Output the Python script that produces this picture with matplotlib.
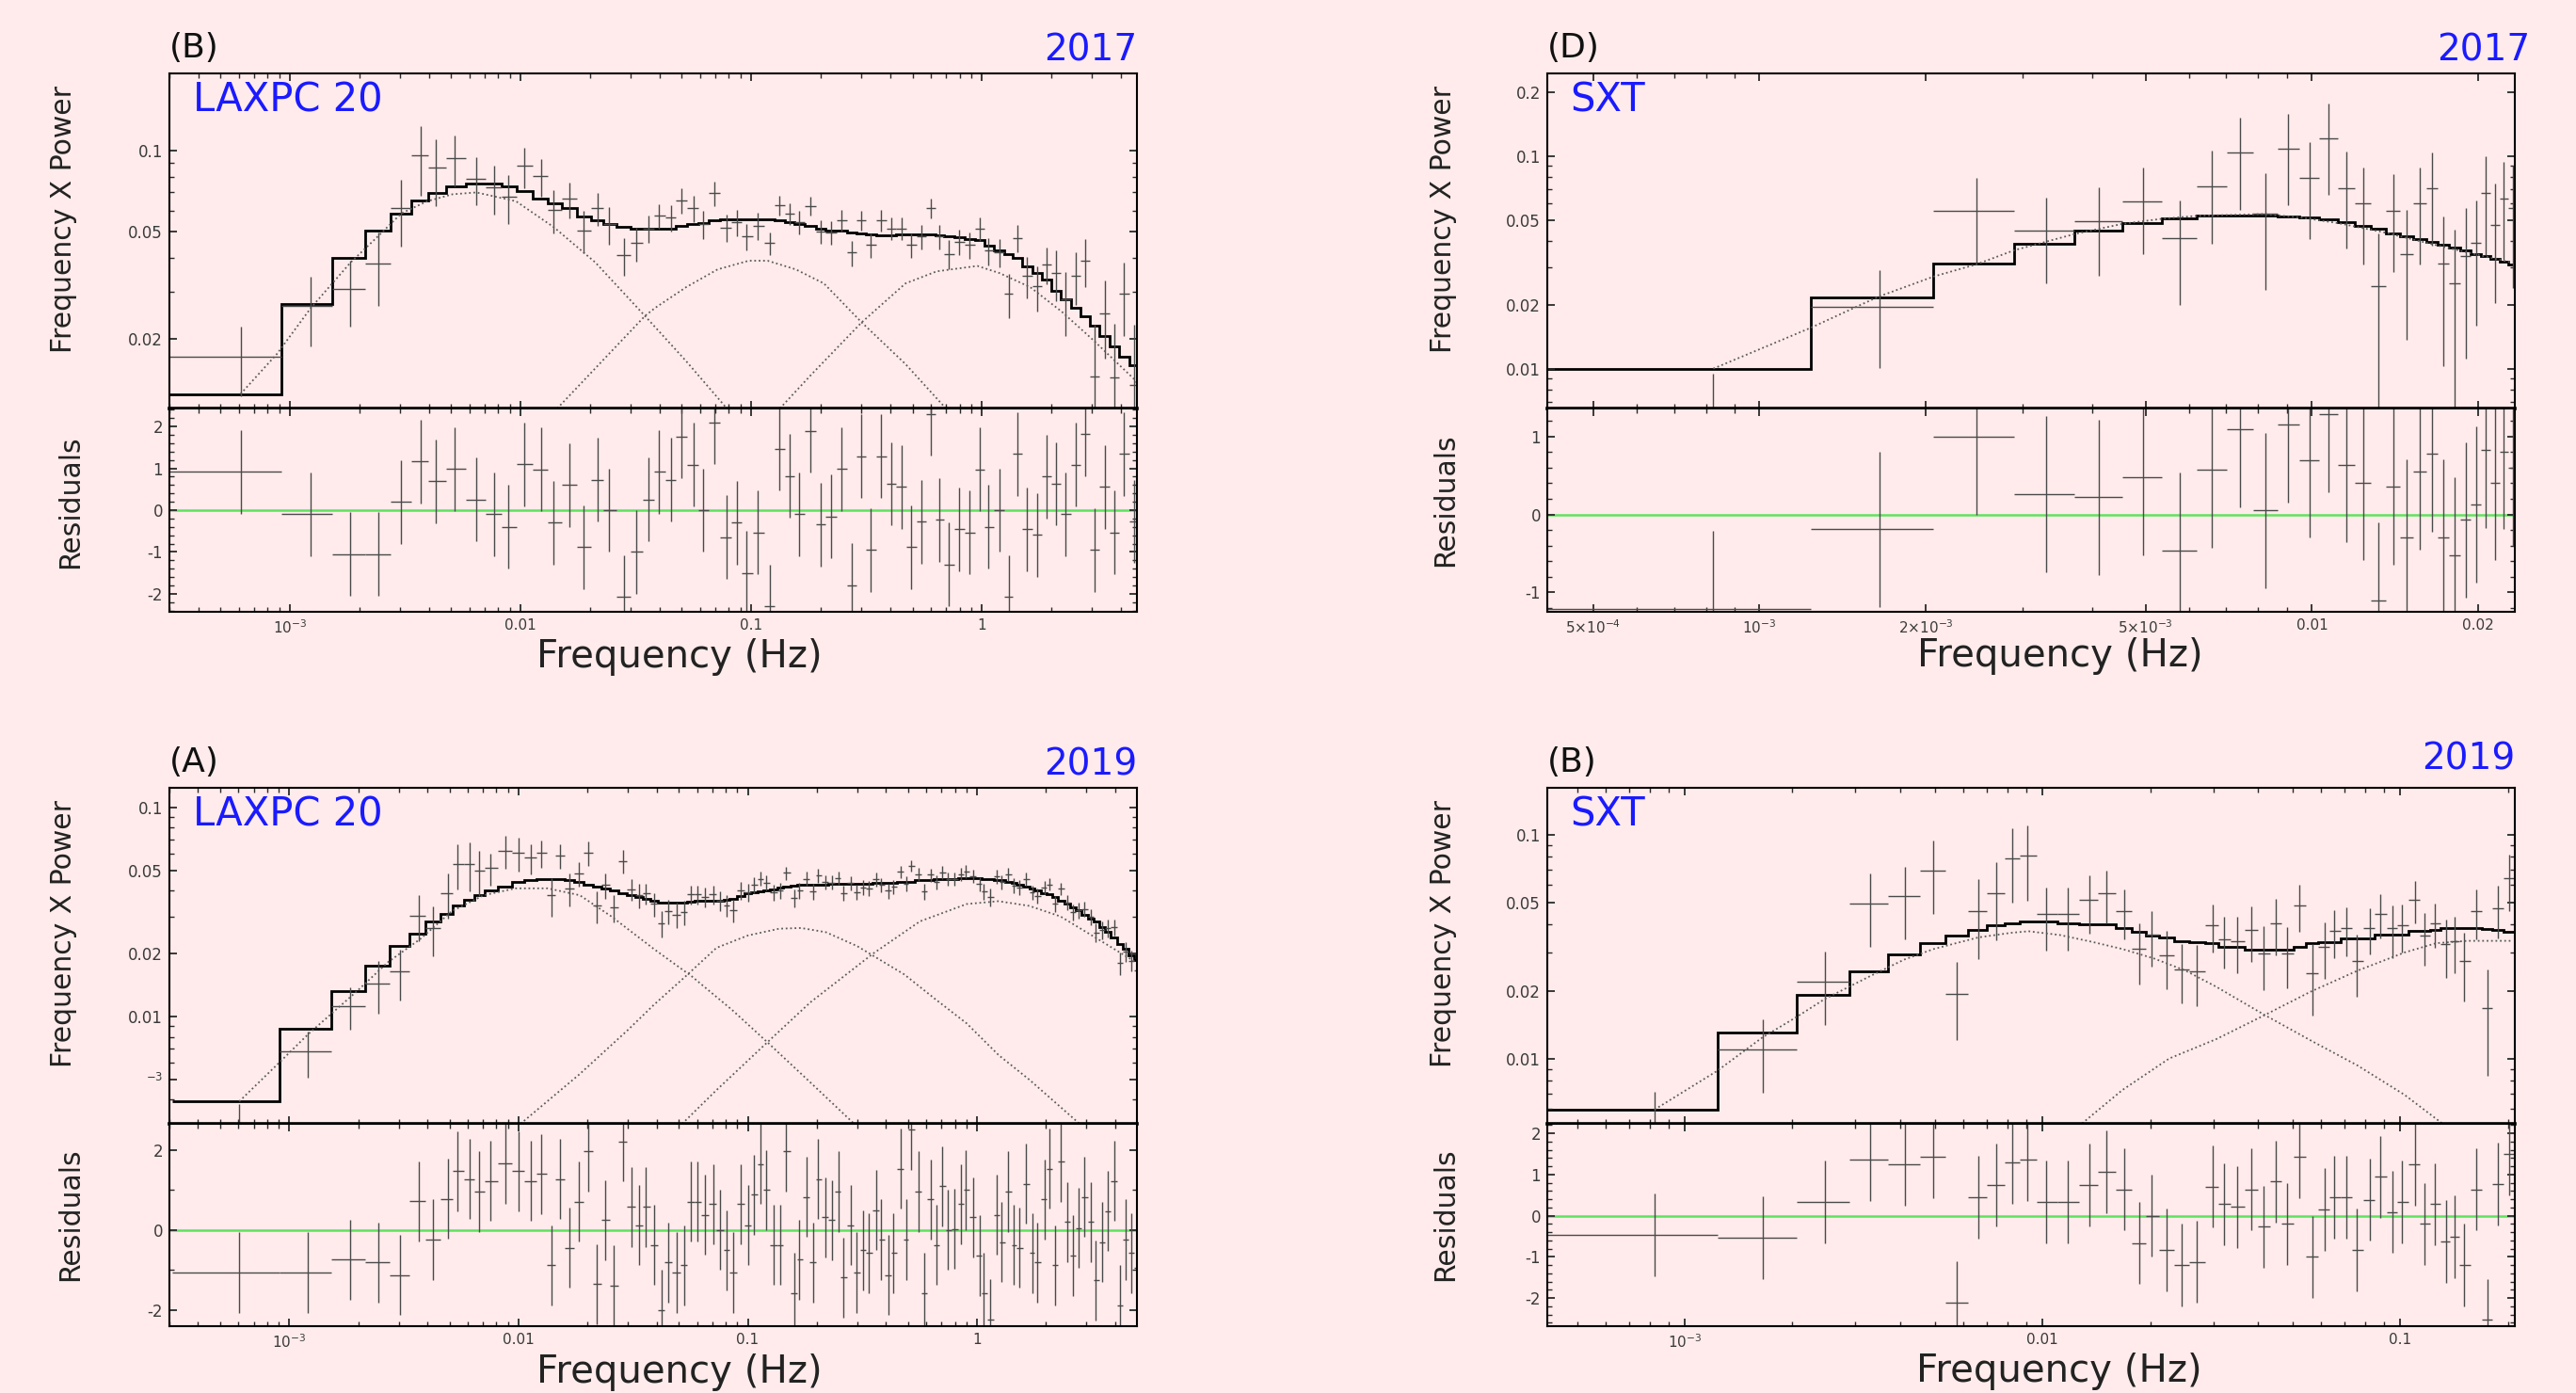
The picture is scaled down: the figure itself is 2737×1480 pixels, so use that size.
import numpy as np
import matplotlib.pyplot as plt
from matplotlib.ticker import LogLocator, MultipleLocator, NullFormatter

# ---------------- data ----------------
# (B) 2017 LAXPC 20
lax17_freq = [6.1e-4, 1.23e-3, 1.83e-3, 2.42e-3, 3.02e-3, 3.68e-3, 4.28e-3, 5.19e-3, 6.43e-3, 7.66e-3,
              8.83e-3, 1.035e-2, 1.23e-2, 1.39e-2, 1.63e-2, 1.88e-2, 2.15e-2, 2.42e-2, 2.81e-2, 3.18e-2,
              3.57e-2, 3.99e-2, 4.47e-2, 4.98e-2, 5.60e-2, 6.20e-2, 6.92e-2, 7.78e-2, 8.66e-2, 9.55e-2,
              0.107, 0.120, 0.1325, 0.1465, 0.161, 0.181, 0.200, 0.221, 0.247, 0.272,
              0.299, 0.330, 0.365, 0.404, 0.448, 0.495, 0.547, 0.601, 0.652, 0.721,
              0.796, 0.883, 0.976, 1.07, 1.19, 1.31, 1.42, 1.57, 1.73, 1.90,
              2.10, 2.31, 2.55, 2.80, 3.08, 3.40, 3.75, 4.14, 4.56]
lax17_pow = [0.0172, 0.0264, 0.0306, 0.0380, 0.0611, 0.0959, 0.0863, 0.0936, 0.0789, 0.0731,
             0.0675, 0.0877, 0.0805, 0.0602, 0.0662, 0.0506, 0.0611, 0.0534, 0.0408, 0.0453,
             0.0515, 0.0575, 0.0564, 0.0653, 0.0611, 0.0534, 0.0695, 0.0518, 0.0542, 0.0481,
             0.0526, 0.0453, 0.0627, 0.0585, 0.0542, 0.0624, 0.0500, 0.0496, 0.0551, 0.0418,
             0.0551, 0.0446, 0.0551, 0.0515, 0.0515, 0.0446, 0.0481, 0.0611, 0.0481, 0.0414,
             0.0459, 0.0446, 0.0515, 0.0425, 0.0420, 0.0294, 0.0473, 0.0343, 0.0313, 0.0378,
             0.0351, 0.0280, 0.0343, 0.0390, 0.0145, 0.0248, 0.0143, 0.0294, 0.0135]
lax17_err = [0.0050, 0.0076, 0.0085, 0.0115, 0.0170, 0.0280, 0.0240, 0.0200, 0.0160, 0.0150,
             0.0140, 0.0150, 0.0130, 0.0110, 0.0100, 0.0090, 0.0085, 0.0085, 0.0065, 0.0065,
             0.0060, 0.0060, 0.0065, 0.0070, 0.0070, 0.0065, 0.0070, 0.0060, 0.0060, 0.0055,
             0.0060, 0.0045, 0.0055, 0.0055, 0.0055, 0.0050, 0.0050, 0.0050, 0.0050, 0.0045,
             0.0048, 0.0048, 0.0050, 0.0048, 0.0048, 0.0048, 0.0050, 0.0052, 0.0050, 0.0052,
             0.0050, 0.0050, 0.0052, 0.0050, 0.0050, 0.0055, 0.0055, 0.0060, 0.0060, 0.0060,
             0.0075, 0.0075, 0.0075, 0.0080, 0.0080, 0.0080, 0.0085, 0.0090, 0.0090]
lax17_mod = [0.01245, 0.0269, 0.0398, 0.0506, 0.0585, 0.0653, 0.0695, 0.0736, 0.0754, 0.0754,
             0.0738, 0.0710, 0.0662, 0.0639, 0.0611, 0.0570, 0.0550, 0.0534, 0.0521, 0.0515,
             0.0515, 0.0515, 0.0515, 0.0526, 0.0534, 0.0539, 0.0550, 0.0555, 0.0558, 0.0558,
             0.0558, 0.0555, 0.0550, 0.0542, 0.0534, 0.0526, 0.0515, 0.0506, 0.0503, 0.0496,
             0.0494, 0.0490, 0.0485, 0.0485, 0.0490, 0.0490, 0.0490, 0.0490, 0.0485, 0.0481,
             0.0477, 0.0471, 0.0464, 0.0443, 0.0425, 0.0414, 0.0398, 0.0373, 0.0351, 0.0331,
             0.0302, 0.0280, 0.0261, 0.0243, 0.0223, 0.0204, 0.0187, 0.0172, 0.0159]
lax17_res = [0.92, -0.10, -1.05, -1.05, 0.20, 1.16, 0.69, 0.98, 0.25, -0.10,
             -0.40, 1.10, 0.97, -0.30, 0.60, -0.88, 0.73, 0.00, -2.08, -1.00,
             0.25, 0.92, 0.73, 1.76, 1.09, 0.00, 2.10, -0.65, -0.30, -1.50,
             -0.53, -2.30, 1.47, 0.82, -0.10, 1.90, -0.34, -0.15, 0.98, -1.79,
             1.29, -0.95, 1.29, 0.63, 0.56, -0.88, -0.28, 2.30, -0.23, -1.30,
             -0.46, -0.53, 0.97, -0.40, 0.00, -2.08, 1.34, -0.46, -0.59, 0.80,
             0.63, -0.10, 1.09, 1.82, -0.95, 0.56, -0.53, 1.34, -0.27]
lax17_c1_f = [6.1e-4, 8.8e-4, 1.23e-3, 1.83e-3, 2.36e-3, 3.04e-3, 3.93e-3, 5.06e-3, 6.43e-3,
              9.55e-3, 1.40e-2, 2.11e-2, 3.46e-2, 5.22e-2, 7.84e-2]
lax17_c1_y = [0.01245, 0.0176, 0.0260, 0.0384, 0.0473, 0.0585, 0.0649, 0.0689, 0.0700,
              0.0649, 0.0518, 0.0384, 0.0243, 0.0165, 0.0110]
lax17_c2_f = [1.44e-2, 3.46e-2, 3.82e-2, 5.22e-2, 7.14e-2, 9.75e-2, 0.1177, 0.156, 0.2065, 0.301, 0.466, 0.698]
lax17_c2_y = [0.0110, 0.0243, 0.0260, 0.0311, 0.0362, 0.0390, 0.0390, 0.0362, 0.0321, 0.0230, 0.0161, 0.0110]
lax17_c3_f = [0.133, 0.182, 0.301, 0.466, 0.636, 0.955, 1.19, 1.62, 2.22, 3.03, 4.55, 4.75]
lax17_c3_y = [0.0110, 0.0147, 0.0230, 0.0321, 0.0356, 0.0373, 0.0351, 0.0311, 0.0252, 0.0198, 0.0142, 0.0135]

# (D) 2017 SXT
sxt17_freq = [8.25e-4, 1.65e-3, 2.47e-3, 3.30e-3, 4.12e-3, 4.95e-3, 5.77e-3, 6.60e-3, 7.42e-3, 8.25e-3,
              9.07e-3, 9.90e-3, 1.072e-2, 1.155e-2, 1.237e-2, 1.320e-2, 1.402e-2, 1.485e-2, 1.567e-2, 1.650e-2,
              1.732e-2, 1.815e-2, 1.897e-2, 1.980e-2, 2.062e-2, 2.145e-2, 2.227e-2, 2.310e-2]
sxt17_pow = [0.0062, 0.0196, 0.0556, 0.0446, 0.0495, 0.0616, 0.0410, 0.0726, 0.1040, 0.0535,
             0.1090, 0.0789, 0.1220, 0.0710, 0.0600, 0.0244, 0.0556, 0.0347, 0.0600, 0.0710,
             0.0313, 0.0252, 0.0341, 0.0390, 0.0673, 0.0473, 0.0635, 0.0571]
sxt17_err = [0.0033, 0.0095, 0.0240, 0.0194, 0.0220, 0.0270, 0.0210, 0.0340, 0.0480, 0.0300,
             0.0500, 0.0380, 0.0560, 0.0340, 0.0290, 0.0190, 0.0270, 0.0210, 0.0290, 0.0330,
             0.0210, 0.0200, 0.0230, 0.0230, 0.0330, 0.0270, 0.0310, 0.0330]
sxt17_mod = [0.0100, 0.0216, 0.0313, 0.0388, 0.0446, 0.0484, 0.0509, 0.0525, 0.0525, 0.0525,
             0.0522, 0.0516, 0.0504, 0.0490, 0.0472, 0.0454, 0.0435, 0.0421, 0.0408, 0.0397,
             0.0383, 0.0371, 0.0359, 0.0348, 0.0338, 0.0330, 0.0319, 0.0310]
sxt17_res = [-1.21, -0.19, 1.00, 0.26, 0.22, 0.48, -0.46, 0.57, 1.09, 0.05,
             1.15, 0.70, 1.29, 0.64, 0.41, -1.10, 0.36, -0.29, 0.55, 0.78,
             -0.29, -0.52, -0.07, 0.13, 0.83, 0.41, 0.81, 0.60]
sxt17_c1_f = [8.25e-4, 1.24e-3, 1.64e-3, 2.07e-3, 2.47e-3, 2.89e-3, 3.71e-3, 4.54e-3, 5.38e-3,
              6.21e-3, 8.18e-3, 9.57e-3, 1.12e-2, 1.36e-2, 1.67e-2, 2.30e-2]
sxt17_c1_y = [0.0100, 0.0156, 0.0218, 0.0272, 0.0310, 0.0361, 0.0430, 0.0481, 0.0509,
              0.0525, 0.0535, 0.0515, 0.0484, 0.0437, 0.0383, 0.0316]

# (A) 2019 LAXPC 20
lax19_freq = [6.05e-4, 1.20e-3, 1.84e-3, 2.44e-3, 3.05e-3, 3.66e-3, 4.22e-3, 4.93e-3, 5.43e-3, 6.11e-3,
              6.73e-3, 7.53e-3, 8.77e-3, 9.97e-3, 1.13e-2, 1.26e-2, 1.39e-2, 1.51e-2, 1.66e-2, 1.83e-2,
              2.02e-2, 2.20e-2, 2.39e-2, 2.60e-2, 2.86e-2, 3.10e-2, 3.36e-2, 3.60e-2, 3.92e-2, 4.20e-2,
              4.49e-2, 4.89e-2, 5.26e-2, 5.65e-2, 6.05e-2, 6.49e-2, 7.05e-2, 7.55e-2, 8.09e-2, 8.61e-2,
              9.34e-2, 0.100, 0.106, 0.114, 0.120, 0.129, 0.139, 0.147, 0.159, 0.168,
              0.180, 0.192, 0.203, 0.218, 0.232, 0.248, 0.261, 0.281, 0.299, 0.319,
              0.337, 0.363, 0.381, 0.409, 0.432, 0.464, 0.490, 0.516, 0.555, 0.586,
              0.628, 0.664, 0.707, 0.748, 0.797, 0.849, 0.895, 0.957, 1.03, 1.07,
              1.14, 1.22, 1.28, 1.37, 1.45, 1.53, 1.64, 1.74, 1.83, 1.97,
              2.06, 2.19, 2.32, 2.47, 2.63, 2.76, 2.94, 3.13, 3.30, 3.51,
              3.72, 3.96, 4.22, 4.46, 4.71, 4.96]
lax19_pow = [0.0022, 0.0068, 0.01125, 0.01435, 0.0164, 0.0304, 0.0265, 0.0388, 0.0537, 0.0537,
             0.0498, 0.0512, 0.0621, 0.0604, 0.0574, 0.0604, 0.0380, 0.0589, 0.0410, 0.0484,
             0.0604, 0.0338, 0.0425, 0.0332, 0.0553, 0.0406, 0.0380, 0.0388, 0.0345, 0.0279,
             0.0318, 0.0307, 0.0315, 0.0383, 0.0384, 0.0372, 0.0384, 0.0358, 0.0340, 0.0323,
             0.0400, 0.0393, 0.0425, 0.0456, 0.0436, 0.0392, 0.0400, 0.0486, 0.0368, 0.0399,
             0.0456, 0.0398, 0.0472, 0.0439, 0.0437, 0.0461, 0.0390, 0.0434, 0.0394, 0.0413,
             0.0411, 0.0452, 0.0427, 0.0399, 0.0417, 0.0491, 0.0432, 0.0527, 0.0480, 0.0395,
             0.0476, 0.0440, 0.0490, 0.0454, 0.0456, 0.0479, 0.0494, 0.0470, 0.0430, 0.0396,
             0.0372, 0.0466, 0.0439, 0.0478, 0.0422, 0.0413, 0.0455, 0.0392, 0.0377, 0.0413,
             0.0428, 0.0346, 0.0408, 0.0351, 0.0315, 0.0322, 0.0327, 0.0300, 0.0252, 0.0259,
             0.0265, 0.0267, 0.0180, 0.0205, 0.0185, 0.0166]
lax19_err = [0.0016, 0.0017, 0.0026, 0.0040, 0.0045, 0.0075, 0.0070, 0.0095, 0.0130, 0.0140,
             0.0120, 0.0090, 0.0110, 0.0110, 0.0095, 0.0090, 0.0080, 0.0080, 0.0075, 0.0065,
             0.0080, 0.0060, 0.0060, 0.0050, 0.0070, 0.0050, 0.0050, 0.0045, 0.0045, 0.0040,
             0.0042, 0.0042, 0.0042, 0.0040, 0.0040, 0.0040, 0.0040, 0.0040, 0.0040, 0.0040,
             0.0038, 0.0038, 0.0038, 0.0036, 0.0036, 0.0036, 0.0036, 0.0035, 0.0035, 0.0035,
             0.0035, 0.0035, 0.0035, 0.0034, 0.0034, 0.0034, 0.0034, 0.0034, 0.0034, 0.0034,
             0.0034, 0.0034, 0.0034, 0.0034, 0.0034, 0.0034, 0.0034, 0.0034, 0.0034, 0.0034,
             0.0034, 0.0034, 0.0034, 0.0034, 0.0034, 0.0034, 0.0035, 0.0035, 0.0035, 0.0036,
             0.0036, 0.0036, 0.0036, 0.0035, 0.0035, 0.0034, 0.0032, 0.0032, 0.0031, 0.0030,
             0.0029, 0.0029, 0.0029, 0.0028, 0.0028, 0.0027, 0.0027, 0.0026, 0.0026, 0.0025,
             0.0025, 0.0024, 0.0022, 0.0022, 0.0021, 0.0021]
lax19_mod = [0.00393, 0.00875, 0.0132, 0.01754, 0.0217, 0.0250, 0.0285, 0.0310, 0.0338, 0.0361,
             0.0380, 0.0399, 0.0418, 0.0439, 0.0447, 0.0452, 0.0452, 0.0452, 0.0447, 0.0439,
             0.0427, 0.0418, 0.0410, 0.0399, 0.0390, 0.0380, 0.0373, 0.0366, 0.0359, 0.0352,
             0.0352, 0.0352, 0.0352, 0.0355, 0.0356, 0.0357, 0.0358, 0.0358, 0.0360, 0.0365,
             0.0375, 0.0388, 0.0392, 0.0397, 0.0400, 0.0405, 0.0414, 0.0417, 0.0423, 0.0425,
             0.0427, 0.0427, 0.0428, 0.0428, 0.0429, 0.0429, 0.0430, 0.0430, 0.0430, 0.0431,
             0.0432, 0.0435, 0.0435, 0.0437, 0.0437, 0.0438, 0.0440, 0.0442, 0.0447, 0.0449,
             0.0450, 0.0452, 0.0453, 0.0454, 0.0455, 0.0457, 0.0459, 0.0459, 0.0457, 0.0455,
             0.0452, 0.0450, 0.0447, 0.0442, 0.0435, 0.0428, 0.0418, 0.0410, 0.0402, 0.0390,
             0.0383, 0.0372, 0.0358, 0.0345, 0.0333, 0.0321, 0.0305, 0.0295, 0.0285, 0.0267,
             0.0253, 0.0238, 0.0222, 0.0210, 0.0196, 0.0186]
lax19_res = [-1.06, -1.06, -0.74, -0.81, -1.12, 0.72, -0.24, 0.78, 1.47, 1.27,
             0.96, 1.22, 1.66, 1.47, 1.22, 1.40, -0.88, 1.27, -0.44, 0.71,
             1.97, -1.35, 0.25, -1.39, 2.21, 0.58, 0.12, 0.58, -0.37, -2.00,
             -0.81, -1.06, -0.88, 0.71, 0.71, 0.38, 0.65, 0.00, -0.50, -1.06,
             0.65, 0.12, 0.88, 1.65, 1.00, -0.37, -0.37, 1.97, -1.57, -0.74,
             0.82, -0.81, 1.27, 0.32, 0.25, 0.96, -1.19, 0.12, -1.06, -0.50,
             -0.57, 0.50, -0.24, -1.12, -0.57, 1.53, -0.24, 2.50, 0.96, -1.57,
             0.76, -0.37, 1.09, 0.00, 0.03, 0.65, 1.00, 0.32, -0.64, -1.57,
             -2.23, 0.38, -0.30, 0.96, -0.37, -0.44, 1.15, -0.57, -0.81, 0.76,
             1.53, -0.88, 1.71, 0.20, -0.64, 0.05, 0.82, 0.20, -1.26, -0.30,
             0.47, 1.22, -1.88, -0.24, -0.57, -0.95]
lax19_c1_f = [6.05e-4, 9.08e-4, 1.21e-3, 1.96e-3, 2.70e-3, 3.72e-3, 5.12e-3, 7.05e-3, 9.7e-3,
              1.34e-2, 1.85e-2, 2.54e-2, 3.9e-2, 5.68e-2, 8.55e-2, 0.1226, 0.1875, 0.291]
lax19_c1_y = [0.00393, 0.00605, 0.00824, 0.01313, 0.01823, 0.02344, 0.0319, 0.0380, 0.0410,
              0.0410, 0.0380, 0.0301, 0.0210, 0.0156, 0.01074, 0.00748, 0.00484, 0.00307]
lax19_c2_f = [1.02e-2, 1.845e-2, 2.99e-2, 3.9e-2, 5.33e-2, 7.3e-2, 0.100, 0.137, 0.171, 0.219,
              0.300, 0.481, 0.658, 0.901, 1.24, 1.69, 2.80]
lax19_c2_y = [0.00307, 0.0053, 0.0086, 0.0114, 0.0155, 0.0213, 0.0244, 0.0263, 0.0265, 0.0253,
              0.0217, 0.0159, 0.0121, 0.00927, 0.00655, 0.00499, 0.00307]
lax19_c3_f = [5.17e-2, 7.3e-2, 0.121, 0.1875, 0.352, 0.563, 0.901, 1.24, 1.69, 2.31, 3.17, 4.92]
lax19_c3_y = [0.00307, 0.00445, 0.00749, 0.0117, 0.0200, 0.0285, 0.0345, 0.0356, 0.0338, 0.0301, 0.0244, 0.0182]

# (B) 2019 SXT
sxt19_freq = [8.24e-4, 1.65e-3, 2.47e-3, 3.30e-3, 4.12e-3, 4.95e-3, 5.77e-3, 6.60e-3, 7.42e-3, 8.25e-3,
              9.07e-3, 1.025e-2, 1.18e-2, 1.35e-2, 1.51e-2, 1.69e-2, 1.86e-2, 2.02e-2, 2.22e-2, 2.45e-2,
              2.70e-2, 2.99e-2, 3.22e-2, 3.49e-2, 3.84e-2, 4.16e-2, 4.48e-2, 4.82e-2, 5.22e-2, 5.67e-2,
              6.15e-2, 6.53e-2, 7.08e-2, 7.57e-2, 8.20e-2, 8.79e-2, 9.53e-2, 0.101, 0.110, 0.117,
              0.125, 0.134, 0.142, 0.151, 0.163, 0.175, 0.1875, 0.202]
sxt19_pow = [0.0050, 0.01106, 0.0222, 0.0497, 0.0533, 0.0695, 0.0196, 0.0458, 0.0550, 0.0788,
             0.0811, 0.0446, 0.0446, 0.0512, 0.0550, 0.0458, 0.0310, 0.0358, 0.0290, 0.0252,
             0.0247, 0.0394, 0.0343, 0.0337, 0.0376, 0.0297, 0.0404, 0.0297, 0.0484, 0.0241,
             0.0318, 0.0373, 0.0383, 0.0274, 0.0383, 0.0446, 0.0383, 0.0394, 0.0512, 0.0356,
             0.0404, 0.0325, 0.0337, 0.0274, 0.0458, 0.0168, 0.0472, 0.0640]
sxt19_err = [0.0021, 0.0040, 0.0080, 0.0180, 0.0190, 0.0250, 0.0075, 0.0180, 0.0210, 0.0290,
             0.0300, 0.0140, 0.0140, 0.0150, 0.0145, 0.0115, 0.0095, 0.0100, 0.0085, 0.0075,
             0.0075, 0.0095, 0.0090, 0.0095, 0.0105, 0.0095, 0.0115, 0.0090, 0.0115, 0.0085,
             0.0090, 0.0090, 0.0095, 0.0085, 0.0090, 0.0100, 0.0100, 0.0095, 0.0110, 0.0095,
             0.0090, 0.0095, 0.0095, 0.0093, 0.0115, 0.0084, 0.0125, 0.0180]
sxt19_mod = [0.00593, 0.01312, 0.0194, 0.0246, 0.0294, 0.0329, 0.0356, 0.0376, 0.0394, 0.0404,
             0.0411, 0.0411, 0.0405, 0.0400, 0.0398, 0.0384, 0.0370, 0.0355, 0.0350, 0.0337,
             0.0334, 0.0330, 0.0318, 0.0318, 0.0308, 0.0308, 0.0308, 0.0308, 0.0318, 0.0330,
             0.0334, 0.0334, 0.0345, 0.0345, 0.0345, 0.0358, 0.0358, 0.0360, 0.0373, 0.0373,
             0.0376, 0.0384, 0.0384, 0.0384, 0.0384, 0.0380, 0.0376, 0.0369]
sxt19_res = [-0.46, -0.53, 0.34, 1.36, 1.24, 1.43, -2.10, 0.45, 0.75, 1.30,
             1.36, 0.34, 0.34, 0.75, 1.07, 0.64, -0.66, 0.00, -0.83, -1.19,
             -1.12, 0.71, 0.28, 0.21, 0.64, -0.27, 0.83, -0.20, 1.43, -1.00,
             0.15, 0.45, 0.45, -0.83, 0.39, 0.94, 0.09, 0.34, 1.24, -0.20,
             0.28, -0.63, -0.51, -1.19, 0.64, -2.53, 0.77, 1.50]
sxt19_c1_f = [8.24e-4, 1.235e-3, 1.65e-3, 2.07e-3, 2.46e-3, 3.31e-3, 4.11e-3, 4.97e-3, 6.61e-3, 8.16e-3,
              9.14e-3, 1.117e-2, 1.37e-2, 1.67e-2, 2.05e-2, 2.51e-2, 3.06e-2, 4.15e-2, 5.61e-2, 7.6e-2,
              0.1028, 0.131]
sxt19_c1_y = [0.00593, 0.00885, 0.01247, 0.0155, 0.0185, 0.0235, 0.0278, 0.0310, 0.0349, 0.0366,
              0.0372, 0.0358, 0.0334, 0.0310, 0.0281, 0.0248, 0.0210, 0.0158, 0.0121, 0.00933,
              0.0069, 0.00514]
sxt19_c2_f = [1.29e-2, 1.67e-2, 2.26e-2, 3.06e-2, 4.15e-2, 5.61e-2, 7.6e-2, 0.1028, 0.126, 0.154, 0.204]
sxt19_c2_y = [0.00514, 0.00724, 0.01003, 0.01225, 0.0156, 0.01995, 0.0248, 0.0299, 0.0329, 0.0337, 0.0337]

# ---------------- figure ----------------
BG = '#ffebeb'
BLUE = '#1a1aff'
EBAR = '#4a4a4a'
plt.rcParams['font.family'] = ['DejaVu Sans']
plt.rcParams['mathtext.fontset'] = 'dejavusans'

W, H = 2737.0, 1480.0
fig = plt.figure(figsize=(W / 100, H / 100), dpi=100, facecolor=BG)


def axes_pair(x0, top, mid, bot):
    ax = fig.add_axes([x0 / W, 1 - mid / H, 1028 / W, (mid - top) / H])
    axr = fig.add_axes([x0 / W, 1 - bot / H, 1028 / W, (bot - mid) / H], sharex=ax)
    return ax, axr


def bin_edges(f):
    f = np.asarray(f)
    mid = 0.5 * (f[1:] + f[:-1])
    return np.concatenate([[2 * f[0] - mid[0]], mid, [2 * f[-1] - mid[-1]]])


def draw(ax, axr, f, p, e, m, r, comps):
    f = np.asarray(f)
    ed = bin_edges(f)
    xe = [f - ed[:-1], ed[1:] - f]
    ax.set_xscale('log')
    ax.set_yscale('log')
    ax.errorbar(f, p, yerr=e, xerr=xe, fmt='none', ecolor=EBAR, elinewidth=1.0, capsize=0)
    ax.stairs(m, ed, baseline=None, color='k', lw=2.0)
    for cf, cy in comps:
        ax.plot(cf, cy, ls=(0, (1, 1.6)), color='#5a5a5a', lw=1.3)
    axr.axhline(0, color='#5ee35e', lw=1.8, zorder=1)
    axr.errorbar(f, r, yerr=1.0, xerr=xe, fmt='none', ecolor=EBAR, elinewidth=1.0, capsize=0)


def style(ax, axr, xlim, ylim, rlim, xt, xtl, yt, ytl, rt, rminor):
    for a in (ax, axr):
        a.set_facecolor(BG)
        for s in a.spines.values():
            s.set_linewidth(1.5)
        a.tick_params(which='both', direction='in', top=True, right=True,
                      colors='#2a2a2a', labelcolor='#3a3a3a', pad=5)
        a.tick_params(which='major', length=6, width=1.3)
        a.tick_params(which='minor', length=3.5, width=1.0)
    ax.spines['bottom'].set_linewidth(2.6)
    ax.set_xlim(*xlim)
    ax.set_ylim(*ylim)
    axr.set_ylim(*rlim)
    axr.set_xticks(xt, xtl, fontsize=11)
    axr.xaxis.set_minor_locator(LogLocator(base=10, subs=np.arange(2, 10), numticks=40))
    axr.xaxis.set_minor_formatter(NullFormatter())
    ax.tick_params(labelbottom=False)
    ax.set_yticks(yt, ytl, fontsize=12)
    ax.yaxis.set_minor_locator(LogLocator(base=10, subs=np.arange(2, 10), numticks=40))
    ax.yaxis.set_minor_formatter(NullFormatter())
    axr.set_yticks(rt, [str(v) for v in rt], fontsize=12)
    axr.yaxis.set_minor_locator(MultipleLocator(rminor))


def labels(ax, axr, letter, year, inst, year_x, year_y, fy, ry, hx, hy):
    ax.text(0.0, 1.028, letter, transform=ax.transAxes, ha='left', va='bottom', fontsize=26, color='#111')
    ax.text(year_x, year_y, year, transform=ax.transAxes, ha='right', va='baseline', fontsize=28, color=BLUE)
    ax.text(0.024, 0.887, inst, transform=ax.transAxes, ha='left', va='baseline', fontsize=30, color=BLUE)
    ax.text(fy[0], fy[1], 'Frequency X Power', transform=ax.transAxes, rotation=90,
            ha='center', va='center', fontsize=21.5, color='#222')
    axr.text(ry[0], ry[1], 'Residuals', transform=axr.transAxes, rotation=90,
             ha='center', va='center', fontsize=21.5, color='#222')
    axr.text(hx, hy, 'Frequency (Hz)', transform=axr.transAxes, ha='center', va='center',
             fontsize=29, color='#222')


# top left: (B) 2017 LAXPC 20
ax, axr = axes_pair(180, 78, 434, 650)
draw(ax, axr, lax17_freq, lax17_pow, lax17_err, lax17_mod, lax17_res,
     [(lax17_c1_f, lax17_c1_y), (lax17_c2_f, lax17_c2_y), (lax17_c3_f, lax17_c3_y)])
style(ax, axr, (3.0e-4, 4.7), (0.0110, 0.194), (-2.43, 2.43),
      [1e-3, 1e-2, 1e-1, 1], [r'$10^{-3}$', '0.01', '0.1', '1'],
      [0.02, 0.05, 0.1], ['0.02', '0.05', '0.1'], [-2, -1, 0, 1, 2], 0.2)
labels(ax, axr, '(B)', '2017', 'LAXPC 20', 1.0, 1.039, (-0.109, 0.565), (-0.1026, 0.54), 0.527, -0.222)

# top right: (D) 2017 SXT
ax, axr = axes_pair(1644, 78, 434, 650)
draw(ax, axr, sxt17_freq, sxt17_pow, sxt17_err, sxt17_mod, sxt17_res, [(sxt17_c1_f, sxt17_c1_y)])
style(ax, axr, (4.13e-4, 0.0233), (0.00649, 0.246), (-1.25, 1.36),
      [5e-4, 1e-3, 2e-3, 5e-3, 1e-2, 2e-2],
      [r'$5{\times}10^{-4}$', r'$10^{-3}$', r'$2{\times}10^{-3}$', r'$5{\times}10^{-3}$', '0.01', '0.02'],
      [0.01, 0.02, 0.05, 0.1, 0.2], ['0.01', '0.02', '0.05', '0.1', '0.2'], [-1, 0, 1], 0.2)
labels(ax, axr, '(D)', '2017', 'SXT', 1.016, 1.039, (-0.1075, 0.565), (-0.105, 0.55), 0.530, -0.218)

# bottom left: (A) 2019 LAXPC 20
ax, axr = axes_pair(180, 837, 1194, 1409)
draw(ax, axr, lax19_freq, lax19_pow, lax19_err, lax19_mod, lax19_res,
     [(lax19_c1_f, lax19_c1_y), (lax19_c2_f, lax19_c2_y), (lax19_c3_f, lax19_c3_y)])
style(ax, axr, (3.0e-4, 4.98), (0.00307, 0.124), (-2.40, 2.65),
      [1e-3, 1e-2, 1e-1, 1], [r'$10^{-3}$', '0.01', '0.1', '1'],
      [0.005, 0.01, 0.02, 0.05, 0.1], [r'$^{-3}$', '0.01', '0.02', '0.05', '0.1'], [-2, 0, 2], 1.0)
labels(ax, axr, '(A)', '2019', 'LAXPC 20', 1.0, 1.039, (-0.109, 0.566), (-0.1026, 0.553), 0.527, -0.228)

# bottom right: (B) 2019 SXT
ax, axr = axes_pair(1644, 837, 1194, 1409)
draw(ax, axr, sxt19_freq, sxt19_pow, sxt19_err, sxt19_mod, sxt19_res,
     [(sxt19_c1_f, sxt19_c1_y), (sxt19_c2_f, sxt19_c2_y)])
style(ax, axr, (4.13e-4, 0.209), (0.00512, 0.163), (-2.68, 2.23),
      [1e-3, 1e-2, 1e-1], [r'$10^{-3}$', '0.01', '0.1'],
      [0.01, 0.02, 0.05, 0.1], ['0.01', '0.02', '0.05', '0.1'], [-2, -1, 0, 1, 2], 0.2)
labels(ax, axr, '(B)', '2019', 'SXT', 1.0, 1.056, (-0.1075, 0.566), (-0.105, 0.553), 0.529, -0.225)

fig.savefig('out.png', dpi=100, facecolor=BG)
